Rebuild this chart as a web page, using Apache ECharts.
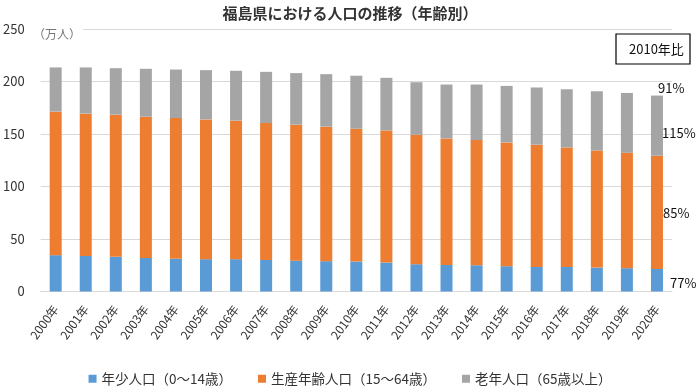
<!DOCTYPE html>
<html><head><meta charset="utf-8">
<script src="https://cdn.jsdelivr.net/npm/echarts@6/dist/echarts.min.js"></script>
<style>html,body{margin:0;padding:0;background:#fff}#c{width:700px;height:388px}</style>
</head><body><div id="c"></div>
<script>
const years = ['2000年','2001年','2002年','2003年','2004年','2005年','2006年','2007年','2008年','2009年','2010年','2011年','2012年','2013年','2014年','2015年','2016年','2017年','2018年','2019年','2020年'];
const young = [34.6,33.9,33.0,32.0,31.1,30.8,30.8,30.1,29.4,28.9,28.5,27.6,26.0,25.3,25.0,24.1,23.4,23.4,22.8,22.2,21.5];
const working = [136.7,135.5,135.4,134.5,134.1,133.1,131.9,130.3,129.5,128.1,126.5,125.8,123.3,120.5,119.2,117.9,116.4,113.8,111.5,109.9,107.8];
const elderly = [42.1,44.0,44.3,45.6,46.2,46.9,47.5,48.8,49.1,50.0,50.5,50.1,50.0,51.3,52.9,53.8,54.5,55.4,56.4,57.0,57.3];
const seriesNames = ['年少人口（0～14歳）','生産年齢人口（15～64歳）','老年人口（65歳以上）'];
const ratioLabels = ['91%','115%','85%','77%'];
const yTicks = [0,50,100,150,200,250];

const FONT = '"Noto Sans CJK JP", "Noto Sans", sans-serif';
const chart = echarts.init(document.getElementById('c'), null, {renderer:'canvas'});
const colors = ['#5B9BD5','#ED7D31','#A5A5A5'];
const mk = (name, data, i) => ({
  name, type:'bar', stack:'t', data, barWidth:12,
  itemStyle:{color:colors[i]}, emphasis:{disabled:true}
});
const txt = (text, x, y, size) => ({type:'text', x, y, z:10,
  style:{text, fill:'#111', font:size+'px '+FONT, align:'left', verticalAlign:'middle'}});
chart.setOption({
  animation:false,
  textStyle:{fontFamily:FONT},
  title:{text:'福島県における人口の推移（年齢別）', left:'center', top:1,
    textStyle:{fontSize:15, fontWeight:'bold', color:'#333', fontFamily:FONT}},
  grid:{left:38, right:28, top:29, bottom:96.5},
  legend:{top:367, left:'center', itemWidth:8, itemHeight:8, itemGap:26,
    icon:'rect', textStyle:{fontSize:13.5, color:'#333', fontFamily:FONT}, data:seriesNames},
  xAxis:{type:'category', data:years,
    axisLine:{lineStyle:{color:'#d9d9d9'}}, axisTick:{show:false},
    axisLabel:{rotate:54, fontSize:12, color:'#333', margin:15, interval:0, fontFamily:FONT}},
  yAxis:{type:'value', min:yTicks[0], max:yTicks[yTicks.length-1], interval:50,
    axisLabel:{fontSize:13, color:'#333', margin:16, fontFamily:FONT},
    splitLine:{lineStyle:{color:'#d9d9d9', width:1}}},
  series:[mk(seriesNames[0], young, 0), mk(seriesNames[1], working, 1), mk(seriesNames[2], elderly, 2)],
  graphic:[
    {type:'text', x:33, y:34, z:10, style:{text:'（万人）', fill:'#777', font:'12px '+FONT,
      align:'left', verticalAlign:'middle', backgroundColor:'#fff', padding:[1,2,1,0]}},
    {type:'rect', x:616, y:34, z:10, shape:{width:74, height:30}, style:{fill:'#fff', stroke:'#000', lineWidth:1.2}},
    txt('2010年比', 629, 49, 13),
    txt(ratioLabels[0], 658, 88, 13),
    txt(ratioLabels[1], 662, 133, 13),
    txt(ratioLabels[2], 663, 213, 13),
    txt(ratioLabels[3], 670, 283, 13)
  ]
});
</script></body></html>
